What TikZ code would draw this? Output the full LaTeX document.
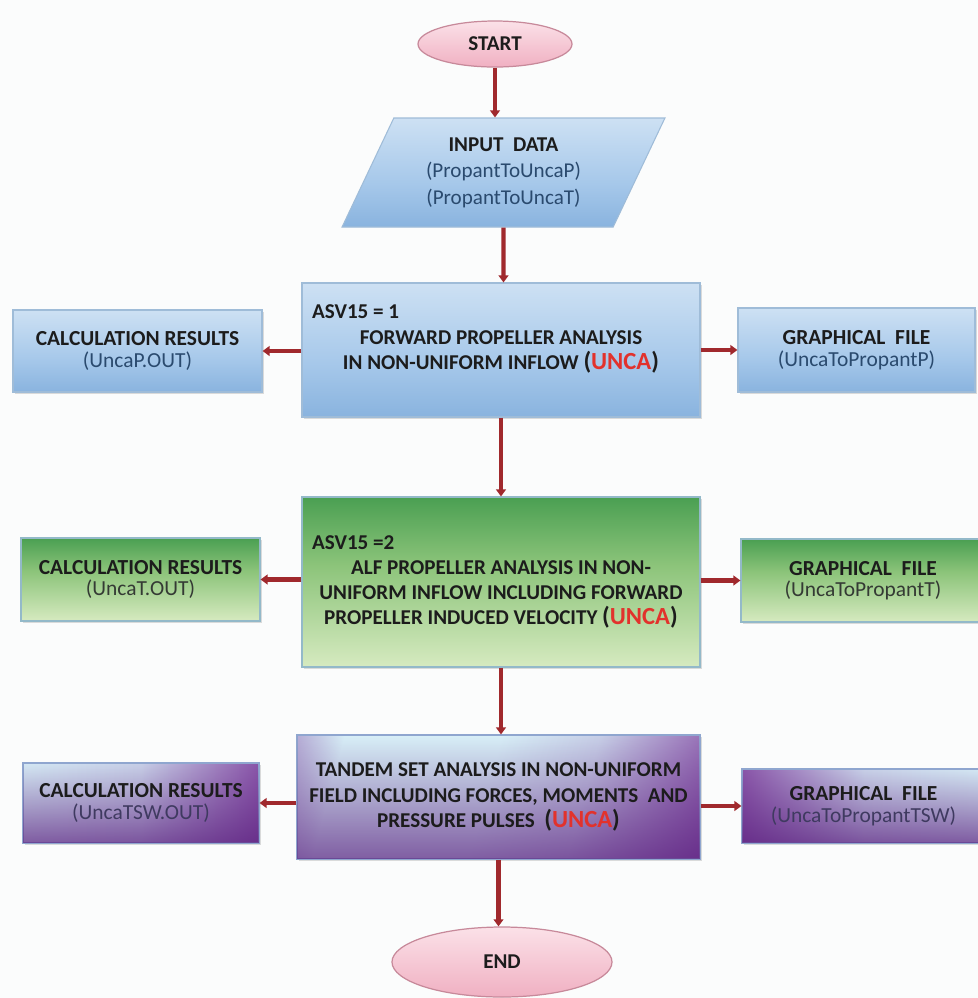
\documentclass[tikz,border=0pt]{standalone}
\usepackage{fontspec}
\setmainfont{Carlito}
\usetikzlibrary{shapes.geometric,arrows.meta,shadows,fadings}

\definecolor{bgpaper}{HTML}{FBFCFC}
\definecolor{flowred}{HTML}{A0292D}
\definecolor{inkdark}{HTML}{1C1C1C}
\definecolor{uncared}{HTML}{E2322C}
\definecolor{edgeblue}{HTML}{9FBCD8}
\definecolor{edgegreen}{HTML}{93B9C9}
\definecolor{edgepurple}{HTML}{8FA6CF}
\definecolor{subblue}{HTML}{2A4A6E}
\definecolor{subgreen}{HTML}{343A34}
\definecolor{subpurple}{HTML}{3F3A60}
\definecolor{pinktop}{HTML}{FBE1E8}
\definecolor{pinkbot}{HTML}{F0B0C2}
\definecolor{pinkedge}{HTML}{C7899A}
\definecolor{blueL}{HTML}{EEF5FB}
\definecolor{blueM}{HTML}{A6C8EA}
\definecolor{blueD}{HTML}{6599D0}
\definecolor{greenL}{HTML}{F3F8E6}
\definecolor{greenP}{HTML}{D6EAC0}
\definecolor{greenM}{HTML}{8CC47A}
\definecolor{greenK}{HTML}{3A9648}
\definecolor{greenD}{HTML}{0E7431}
\definecolor{purpD}{HTML}{5A1F7E}
\definecolor{purpM}{HTML}{7D3C9C}
\definecolor{skyL}{HTML}{D8F0F8}
\definecolor{pinkP}{HTML}{D46BB0}
\colorlet{skyPurp}{skyL!82!purpM}

\pgfdeclareverticalshading{blueshade}{100bp}{color(0bp)=(blueD); color(45bp)=(blueM); color(100bp)=(blueL)}
\pgfdeclareverticalshading{greenshade}{100bp}{color(0bp)=(greenL); color(25bp)=(greenP); color(55bp)=(greenM); color(80bp)=(greenK); color(100bp)=(greenD)}
\pgfdeclarehorizontalshading{tandemshade}{100bp}{color(0bp)=(purpD); color(8bp)=(purpM); color(26bp)=(skyL); color(48bp)=(skyL); color(62bp)=(skyPurp); color(85bp)=(purpM); color(100bp)=(purpD)}
\pgfdeclarehorizontalshading{sideshade}{100bp}{color(0bp)=(pinkP); color(18bp)=(skyL); color(50bp)=(skyPurp); color(80bp)=(purpM); color(100bp)=(purpD)}
\tikzfading[name=fadedown, top color=transparent!100, middle color=transparent!95, bottom color=transparent!30]

\newcommand{\uncaTag}{{\fontsize{14}{14}\selectfont(\textcolor{uncared}{UNCA})}}
\newcommand{\subline}[2]{{\mdseries\color{#1}#2}}

\begin{document}
\begin{tikzpicture}[every node/.style={align=center, text=inkdark, font=\fontsize{12}{14.3}\selectfont\bfseries},
    link/.style={draw=flowred, line width=2.3pt, -{Triangle[length=4pt,width=5.5pt]}},
    terminal/.style={ellipse, draw=pinkedge, line width=0.7pt, top color=pinktop, bottom color=pinkbot, inner sep=0pt},
    databox/.style={trapezium, trapezium left angle=63, trapezium right angle=117, trapezium stretches=true, draw=edgeblue, line width=0.6pt, shade, shading=blueshade, inner sep=1pt},
    softshadow/.style={drop shadow={shadow xshift=1.2pt, shadow yshift=-1.2pt, opacity=0.3, fill=black!45}},
    bluebox/.style={rectangle, draw=edgeblue, line width=0.6pt, shade, shading=blueshade, softshadow},
    greenbox/.style={rectangle, draw=edgegreen, line width=0.6pt, shade, shading=greenshade, softshadow},
    purplebox/.style={rectangle, draw=edgepurple, line width=0.6pt, shade, shading=#1, softshadow, postaction={fill=purpD, path fading=fadedown}},
    sidefont/.style={font=\fontsize{12.2}{12.3}\selectfont\bfseries}]
    \fill[bgpaper] (0,0) rectangle (19.56,-19.96);
    \useasboundingbox (0,0) rectangle (19.56,-19.96);

    \node[terminal, minimum width=3.08cm, minimum height=0.92cm] (start) at (9.90,-0.88) {START};
    \node[databox, minimum width=6.46cm, minimum height=2.18cm, font=\fontsize{12}{15}\selectfont\bfseries] (input) at (10.07,-3.45) {INPUT\ \ DATA\\\subline{subblue}{(PropantToUncaP)}\\\subline{subblue}{(PropantToUncaT)}};

    \node[bluebox, minimum width=7.96cm, minimum height=2.68cm] (fwd) at (10.02,-7.00) {};
    \node (fwdtext) at (10.02,-6.78) {\makebox[7.56cm][l]{ASV15 = 1}\\FORWARD PROPELLER ANALYSIS\\IN NON-UNIFORM INFLOW \uncaTag};
    \node[bluebox, sidefont, minimum width=4.98cm, minimum height=1.64cm] (calcA) at (2.75,-7.02) {CALCULATION RESULTS\\\subline{subblue}{(UncaP.OUT)}};
    \node[bluebox, sidefont, minimum width=4.74cm, minimum height=1.68cm] (fileA) at (17.13,-7.00) {GRAPHICAL\ \ FILE\\\subline{subblue}{(UncaToPropantP)}};

    \node[greenbox, minimum width=7.96cm, minimum height=3.40cm] (alf) at (10.02,-11.64) {\makebox[7.56cm][l]{ASV15 =2}\\ALF PROPELLER ANALYSIS IN NON-\\UNIFORM INFLOW INCLUDING FORWARD\\PROPELLER INDUCED VELOCITY \uncaTag};
    \node[greenbox, sidefont, minimum width=4.78cm, minimum height=1.66cm] (calcB) at (2.81,-11.59) {CALCULATION RESULTS\\\subline{subgreen}{(UncaT.OUT)}};
    \node[greenbox, sidefont, minimum width=4.88cm, minimum height=1.66cm] (fileB) at (17.26,-11.61) {GRAPHICAL\ \ FILE\\\subline{subgreen}{(UncaToPropantT)}};

    \node[purplebox=tandemshade, shading angle=-15, minimum width=8.06cm, minimum height=2.48cm] (tandem) at (9.97,-15.94) {TANDEM SET ANALYSIS IN NON-UNIFORM\\FIELD INCLUDING FORCES, MOMENTS\ \ AND\\PRESSURE PULSES\ \ \uncaTag};
    \node[purplebox=sideshade, sidefont, minimum width=4.72cm, minimum height=1.60cm] (calcC) at (2.82,-16.06) {CALCULATION RESULTS\\\subline{subpurple}{(UncaTSW.OUT)}};
    \node[purplebox=sideshade, shading angle=180, sidefont, minimum width=4.86cm, minimum height=1.48cm] (fileC) at (17.27,-16.12) {GRAPHICAL\ \ FILE\\\subline{subpurple}{(UncaToPropantTSW)}};

    \node[terminal, minimum width=4.40cm, minimum height=1.40cm] (stop) at (10.04,-19.24) {END};

    \draw[link] (start) -- (start |- input.north);
    \draw[link] (input) -- (input |- fwd.north);
    \draw[link] (fwd) -- (fwd |- alf.north);
    \draw[link] (alf) -- (alf |- tandem.north);
    \draw[link] (tandem) -- (tandem |- stop.north);
    \draw[link] (calcA.east -| fwd.west) -- (calcA.east);
    \draw[link] (fileA.west -| fwd.east) -- (fileA.west);
    \draw[link] (calcB.east -| alf.west) -- (calcB.east);
    \draw[link] (fileB.west -| alf.east) -- (fileB.west);
    \draw[link] (calcC.east -| tandem.west) -- (calcC.east);
    \draw[link] (fileC.west -| tandem.east) -- (fileC.west);
\end{tikzpicture}
\end{document}
